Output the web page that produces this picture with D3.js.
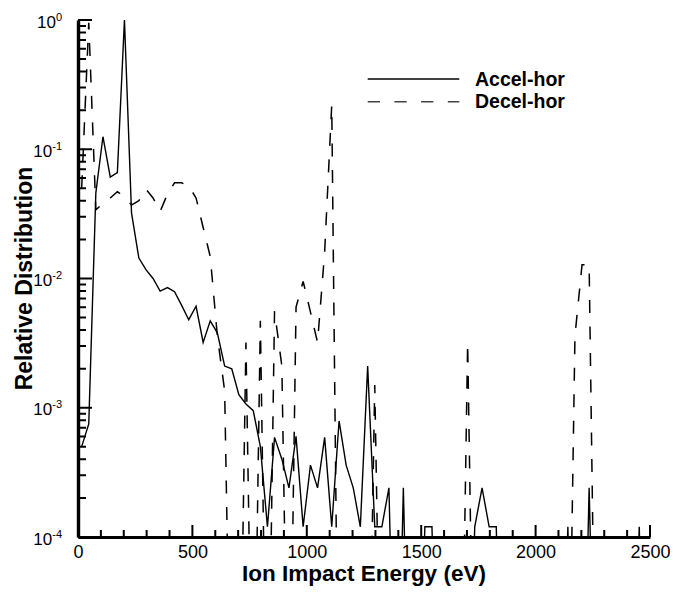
<!DOCTYPE html>
<html>
<head>
<meta charset="utf-8">
<script src="https://cdn.jsdelivr.net/npm/d3@7"></script>
<style>
  html, body { margin: 0; padding: 0; background: #fff; }
  svg { display: block; font-family: "Liberation Sans", Arial, Helvetica, sans-serif; }
</style>
</head>
<body>
<svg id="chart" width="673" height="592"></svg>
<script>
// ---- data ----
const energies = [16,47,78,109,141,172,203,234,266,297,328,359,391,422,453,484,
  516,547,578,609,641,672,703,734,766,797,828,859,891,922,953,984,
  1016,1047,1078,1109,1141,1172,1203,1234,1266,1297,1328,1359,1391,1422,1453,1484,
  1516,1547,1578,1609,1641,1672,1703,1734,1766,1797,1828,1859,1891,1922,1953,1984,
  2016,2047,2078,2109,2141,2172,2203,2234,2266,2297,2328,2359,2391,2422,2453,2484];

const accelHor = [0.0005,0.00075,0.046,0.125,0.061,0.066,1.0,0.032,0.0144,0.0117,0.0100,0.0080,0.0085,0.0079,0.0062,0.0048,
  0.0061,0.0032,0.0047,0.0038,0.0021,0.0020,0.00126,0.00107,0.00095,0.0005,0.00012,0.00059,0.0004,0.00024,0.0006,0.00012,
  0.00036,0.00024,0.00059,0.00012,0.00079,0.00036,0.00024,0.00012,0.0021,0.00012,0.00012,0.00024,0,0.00024,0,0,
  0.00012,0.00012,0,0,0,0,0,0.00012,0.00024,0.00012,0.00012,0,0,0,0,0,
  0,0,0,0,0.00012,0,0,0.00024,0,0,0,0,0,0,0.00012,0];

const decelHor = [0.05,0.95,0.034,0.038,0.042,0.047,0.043,0.037,0.040,0.049,0.042,0.033,0.045,0.055,0.055,0.052,
  0.042,0.0248,0.0148,0.0036,0.00135,0,0,0.0032,0,0.0047,0,0.0056,0.0021,0,0.006,0.0095,
  0.0055,0.0032,0.016,0.22,0,0,0,0,0,0.0015,0,0,0,0,0,0,
  0,0,0,0,0,0,0.0032,0,0,0,0,0,0,0,0,0,
  0,0,0,0,0,0.0036,0.0128,0.0128,0,0,0,0,0,0,0,0];

const seriesNames = ["Accel-hor", "Decel-hor"];
const xTickValues = [0, 500, 1000, 1500, 2000, 2500];
const xTickLabels = ["0", "500", "1000", "1500", "2000", "2500"];
const yTickValues = [1, 0.1, 0.01, 0.001, 0.0001];
const yTickExponents = ["0", "-1", "-2", "-3", "-4"];
const xTitle = "Ion Impact Energy (eV)";
const yTitle = "Relative Distribution";

// ---- layout ----
const svg = d3.select("#chart");
const L = 78, R = 650, T = 20, B = 537;
const x = d3.scaleLinear().domain([0, 2500]).range([L, R]);
const y = d3.scaleLog().domain([1e-4, 1]).range([B, T]);
const FLOOR = 1e-6;

svg.append("defs").append("clipPath").attr("id", "plotclip")
  .append("rect").attr("x", L).attr("y", T - 2).attr("width", R - L + 2).attr("height", B - T + 2);

// minor tick values
const yMinor = [];
[1e-4, 1e-3, 1e-2, 1e-1].forEach(d => { for (let k = 2; k <= 9; k++) yMinor.push(d * k); });
const xMinor = [];
for (let v = 100; v < 2500; v += 100) if (v % 500 !== 0) xMinor.push(v);

// ---- data lines ----
const line = d3.line()
  .x((d, i) => x(energies[i]))
  .y(d => y(Math.max(d, FLOOR)));

const gData = svg.append("g").attr("clip-path", "url(#plotclip)");
gData.append("path").datum(accelHor)
  .attr("d", line).attr("fill", "none").attr("stroke", "#000").attr("stroke-width", 1.4)
  .attr("stroke-linejoin", "miter");
gData.append("path").datum(decelHor)
  .attr("d", line).attr("fill", "none").attr("stroke", "#000").attr("stroke-width", 1.5)
  .attr("stroke-dasharray", "13,13.5");

// ---- tick marks (inward), drawn from the scales ----
const font = '"Liberation Sans", Arial, sans-serif';
let tickPath = "";
xMinor.forEach(d => { tickPath += `M${x(d)},${B}V${B - 7}`; });
xTickValues.forEach(d => { tickPath += `M${x(d)},${B}V${B - 12}`; });
yMinor.forEach(d => { tickPath += `M${L},${y(d)}H${L + 8}`; });
yTickValues.forEach(d => { tickPath += `M${L},${y(d)}H${L + 14}`; });
svg.append("path").attr("d", tickPath).attr("fill", "none")
  .attr("stroke", "#000").attr("stroke-width", 2);

// ---- axes (domain line + labels) ----
const gx = svg.append("g").attr("transform", `translate(0,${B})`)
  .call(d3.axisBottom(x).tickValues(xTickValues).tickSize(0).tickPadding(8)
    .tickFormat((d, i) => xTickLabels[i]));
gx.selectAll(".domain").attr("stroke", "#000").attr("stroke-width", 3.2);
gx.selectAll(".tick text").attr("font-size", 18).attr("fill", "#000").attr("font-family", font)
  .attr("dy", "0.71em");

const gy = svg.append("g").attr("transform", `translate(${L},0)`)
  .call(d3.axisLeft(y).tickValues(yTickValues).tickSize(0).tickPadding(16)
    .tickFormat(() => ""));
gy.selectAll(".domain").attr("stroke", "#000").attr("stroke-width", 3.4);
gy.selectAll(".tick text")
  .attr("font-family", font)
  .attr("fill", "#000").attr("dy", "0.42em").attr("font-size", 17)
  .each(function (d) {
    const i = yTickValues.indexOf(d);
    const t = d3.select(this);
    t.append("tspan").text("10");
    t.append("tspan").attr("font-size", 11).attr("dy", -7).text(yTickExponents[i]);
  });

// ---- titles ----
svg.append("text")
  .attr("x", (L + R) / 2).attr("y", 581)
  .attr("text-anchor", "middle").attr("font-weight", "bold").attr("font-size", 22.5)
  .attr("fill", "#000").text(xTitle);

svg.append("text")
  .attr("transform", `translate(32,${(T + B) / 2}) rotate(-90)`)
  .attr("text-anchor", "middle").attr("font-weight", "bold").attr("font-size", 23)
  .attr("fill", "#000").text(yTitle);

// ---- legend ----
const legend = svg.append("g");
const legY = [79, 101.7];
const legDash = [null, "12.3,14.4"];
seriesNames.forEach((name, i) => {
  legend.append("line")
    .attr("x1", 367.7).attr("x2", 459.3).attr("y1", legY[i]).attr("y2", legY[i])
    .attr("stroke", i === 0 ? "#000" : "#444").attr("stroke-width", 1.6)
    .attr("stroke-dasharray", legDash[i]);
  legend.append("text")
    .attr("x", 475).attr("y", legY[i] + 6.5)
    .attr("font-weight", "bold").attr("font-size", 19.5).attr("fill", "#000")
    .text(name);
});
</script>
</body>
</html>
